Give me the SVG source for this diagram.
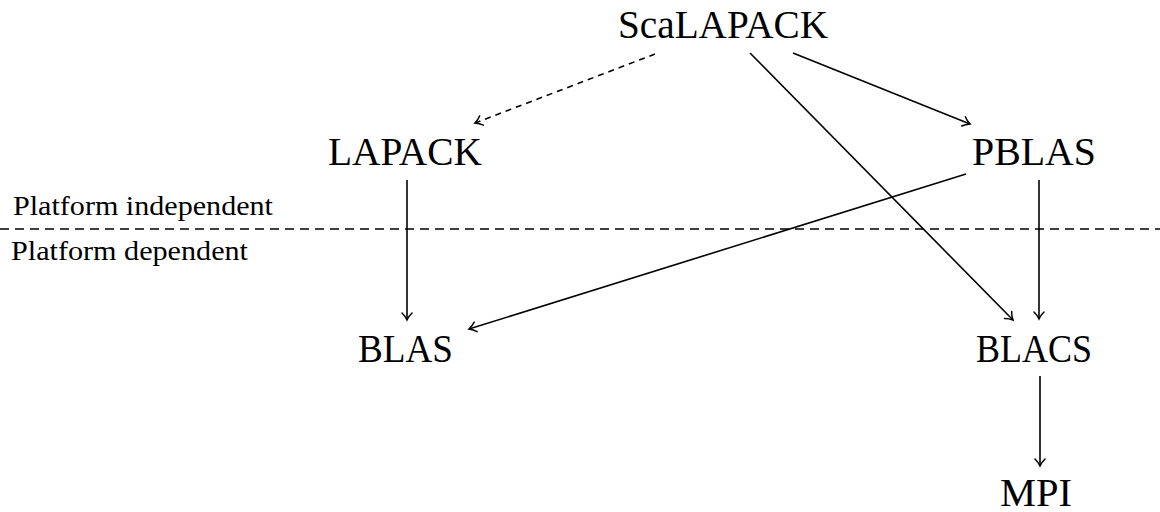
<svg xmlns="http://www.w3.org/2000/svg" width="1160" height="512" viewBox="0 0 1160 512">
  <style>
    .lbl { font-family: "Liberation Serif", "Times New Roman", serif; font-size: 39px; fill: #000; text-anchor: middle; }
    .side { font-family: "Liberation Serif", "Times New Roman", serif; font-size: 27px; fill: #000; }
    .edge { stroke: #000; stroke-width: 1.6; fill: none; marker-end: url(#arr); }
    .dash { stroke-dasharray: 6 5; }
    .sep { stroke: #000; stroke-width: 1.6; stroke-dasharray: 9 6; fill: none; }
  </style>
  <defs>
    <marker id="arr" markerUnits="userSpaceOnUse" viewBox="-8 -6 10 12" refX="0" refY="0" markerWidth="10" markerHeight="12" orient="auto" overflow="visible">
      <path d="M -7 -5 C -4.8 -2.7, -1.9 -0.9, 0 0 C -1.9 0.9, -4.8 2.7, -7 5" stroke="#000" stroke-width="1.5" fill="none" stroke-linecap="round"/>
    </marker>
  </defs>

  <g id="separator">
    <line class="sep" x1="0" y1="229" x2="1160" y2="229"/>
    <text class="side" x="13" y="215" textLength="260" lengthAdjust="spacingAndGlyphs">Platform independent</text>
    <text class="side" x="11" y="260" textLength="237" lengthAdjust="spacingAndGlyphs">Platform dependent</text>
  </g>

  <g id="connectors">
    <line class="edge dash" x1="655" y1="54" x2="475" y2="123"/>
    <line class="edge" x1="793" y1="53" x2="970" y2="124"/>
    <line class="edge" x1="750" y1="53" x2="1013" y2="320"/>
    <line class="edge" x1="966" y1="174" x2="469" y2="329"/>
    <line class="edge" x1="407" y1="180" x2="407" y2="320"/>
    <line class="edge" x1="1039" y1="180" x2="1039" y2="319"/>
    <line class="edge" x1="1040" y1="376" x2="1040" y2="466"/>
  </g>

  <g id="node-scalapack"><text class="lbl" x="723" y="38" textLength="210" lengthAdjust="spacingAndGlyphs">ScaLAPACK</text></g>
  <g id="node-lapack"><text class="lbl" x="405" y="165" textLength="154" lengthAdjust="spacingAndGlyphs">LAPACK</text></g>
  <g id="node-pblas"><text class="lbl" x="1034" y="165" textLength="124" lengthAdjust="spacingAndGlyphs">PBLAS</text></g>
  <g id="node-blas"><text class="lbl" x="405.5" y="362" textLength="95" lengthAdjust="spacingAndGlyphs">BLAS</text></g>
  <g id="node-blacs"><text class="lbl" x="1034" y="362" textLength="116" lengthAdjust="spacingAndGlyphs">BLACS</text></g>
  <g id="node-mpi"><text class="lbl" x="1036" y="506" textLength="72" lengthAdjust="spacingAndGlyphs">MPI</text></g>
</svg>
